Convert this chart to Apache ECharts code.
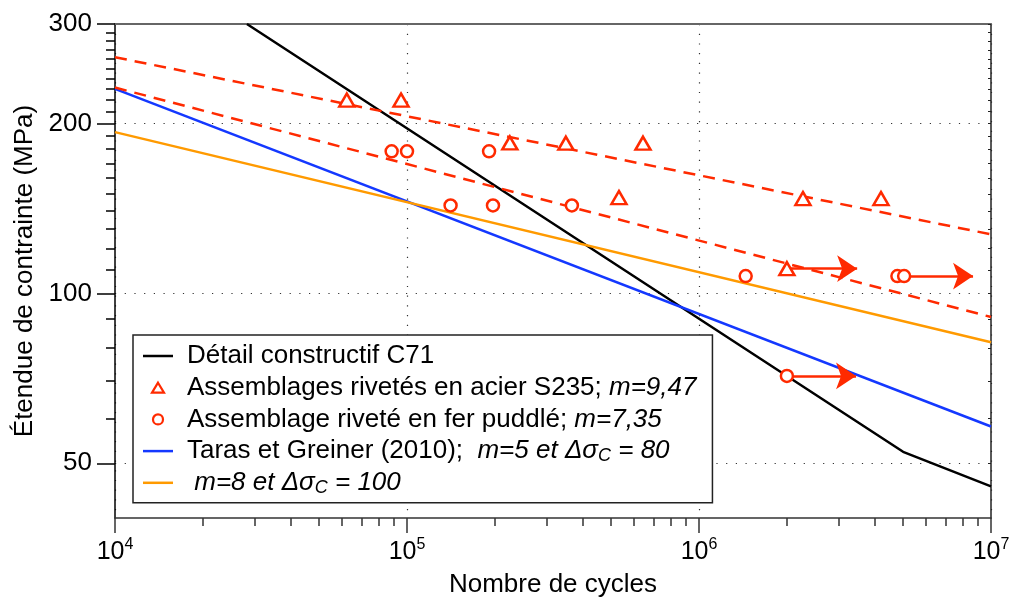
<!DOCTYPE html>
<html><head><meta charset="utf-8">
<script src="https://cdn.jsdelivr.net/npm/echarts@6/dist/echarts.min.js"></script>
<style>html,body{margin:0;padding:0;background:#fff}#c{width:1016px;height:606px}</style>
</head><body><div id="c"></div>
<script>
const FONT = "'Liberation Sans', Helvetica, Arial, sans-serif";
const RED = '#ff2a00', BLUE = '#1438ff', ORANGE = '#ff9a00';

// axis ticks (cycles, MPa)
const xTickLabels = [1e4, 1e5, 1e6, 1e7];
const xMinorTicks = [2e4,3e4,4e4,5e4,6e4,7e4,8e4,9e4, 2e5,3e5,4e5,5e5,6e5,7e5,8e5,9e5, 2e6,3e6,4e6,5e6,6e6,7e6,8e6,9e6];
const yTickLabels = [50, 100, 200, 300];
const yMinorTicks = [60,70,80,90,110,120,130,140,150,160,170,180,190,210,220,230,240,250,260,270,280,290];
const xRange = [1e4, 1e7];
const yRange = [40, 300];

// Détail constructif C71
const c71N = [2.83e4, 5e6, 1e7];
const c71S = [300, 52.4, 45.5];
// Assemblages rivetés en acier S235 (triangles)
const s235N = [6.22e4, 9.54e4, 2.25e5, 3.50e5, 5.32e5, 6.43e5, 2.0e6, 2.27e6, 4.20e6];
const s235S = [220, 220, 184.7, 184.5, 147.8, 184.5, 110.6, 147.2, 147.2];
// Assemblage riveté en fer puddlé (circles)
const puddN = [8.86e4, 1.0e5, 1.41e5, 1.91e5, 1.97e5, 3.67e5, 1.445e6, 2.0e6, 4.78e6, 5.04e6];
const puddS = [178.5, 178.5, 143.1, 178.5, 143.1, 143.1, 107.3, 71.4, 107.3, 107.3];
// Taras et Greiner (2010)
const tarasN = [1e4, 1e7];
const tarasS = [230.2, 58.1];
// m=8, Δσc=100
const m8N = [1e4, 1e7];
const m8S = [193, 81.9];
// fitted dashed lines
const fitS235N = [1e4, 1e7];
const fitS235S = [262, 127.2];
const fitPuddN = [1e4, 1e7];
const fitPuddS = [231.5, 90.8];
// run-out arrows (start, tip)
const arrowFromN = [2.0e6, 5.04e6, 2.0e6];
const arrowToN = [3.48e6, 8.68e6, 3.45e6];
const arrowS = [110.6, 107.3, 71.4];

const L = Math.log10;
const pts = (N, S) => N.map((n, i) => [L(n), L(S[i])]);

const names = ['Détail constructif C71', 'Assemblages rivetés en acier S235', 'Assemblage riveté en fer puddlé', 'Taras et Greiner (2010)', 'm=8 et Δσc = 100'];
const legendText = {};
legendText[names[0]] = 'Détail constructif C71';
legendText[names[1]] = 'Assemblages rivetés en acier S235; {i|m=9,47}';
legendText[names[2]] = 'Assemblage riveté en fer puddlé; {i|m=7,35}';
legendText[names[3]] = 'Taras et Greiner (2010);  {i|m=5 et Δσ}{s|C}{i| = 80}';
legendText[names[4]] = ' {i|m=8 et Δσ}{s|C}{i| = 100}';

const LINE_ICON = 'path://M0,0H30V2.5H0Z';
const legendData = [
  { name: names[0], icon: LINE_ICON, itemStyle: { color: '#000', borderWidth: 0 } },
  { name: names[1], icon: 'path://M6,0L12,10H0Z', itemStyle: { color: '#fff', borderColor: RED, borderWidth: 2.2 } },
  { name: names[2], icon: 'circle', itemStyle: { color: '#fff', borderColor: RED, borderWidth: 2.2 } },
  { name: names[3], icon: LINE_ICON, itemStyle: { color: BLUE, borderWidth: 0 } },
  { name: names[4], icon: LINE_ICON, itemStyle: { color: ORANGE, borderWidth: 0 } }
];

const dotted = { type: [1.2, 8.5], color: '#333', width: 1.2 };
const xBase = { type: 'value', min: L(xRange[0]), max: L(xRange[1]), interval: 1 };
const yBase = { type: 'value', min: L(yRange[0]), max: L(yRange[1]) };

const chart = echarts.init(document.getElementById('c'), null, { renderer: 'canvas' });
chart.setOption({
  animation: false,
  backgroundColor: '#fff',
  textStyle: { fontFamily: FONT },
  grid: { left: 115, right: 25, top: 24, bottom: 88, containLabel: false },
  xAxis: [
    Object.assign({}, xBase, {
      position: 'bottom',
      name: 'Nombre de cycles', nameLocation: 'middle', nameGap: 54,
      nameTextStyle: { fontSize: 26, color: '#000', fontFamily: FONT },
      axisLine: { show: true, lineStyle: { color: '#333', width: 1.5 } },
      axisTick: { show: true, customValues: xTickLabels.map(L), length: 15, lineStyle: { color: '#333', width: 1.5 } },
      axisLabel: {
        customValues: xTickLabels.map(L), margin: 19, color: '#000',
        formatter: v => '{b|10}{s|' + Math.round(v) + '}',
        rich: {
          b: { fontSize: 25, lineHeight: 28, verticalAlign: 'bottom', fontFamily: FONT, color: '#000' },
          s: { fontSize: 16, lineHeight: 14, verticalAlign: 'top', fontFamily: FONT, color: '#000' }
        }
      },
      splitLine: { show: true, lineStyle: dotted }
    }),
    Object.assign({}, xBase, {
      position: 'bottom',
      axisLine: { show: false },
      axisTick: { show: true, customValues: xMinorTicks.map(L), length: 8, lineStyle: { color: '#333', width: 1.5 } },
      axisLabel: { show: false },
      splitLine: { show: false }
    }),
    Object.assign({}, xBase, {
      position: 'top',
      axisLine: { show: true, lineStyle: { color: '#666', width: 2 } },
      axisTick: { show: false }, axisLabel: { show: false }, splitLine: { show: false }
    })
  ],
  yAxis: [
    Object.assign({}, yBase, {
      position: 'left',
      name: 'Étendue de contrainte (MPa)', nameLocation: 'middle', nameGap: 77,
      nameTextStyle: { fontSize: 26, color: '#000', fontFamily: FONT },
      axisLine: { show: true, lineStyle: { color: '#000', width: 1.5 } },
      axisTick: { show: true, customValues: yTickLabels.map(L), length: 18, lineStyle: { color: '#000', width: 1.5 } },
      axisLabel: {
        customValues: yTickLabels.map(L), margin: 23, fontSize: 26, color: '#000', fontFamily: FONT,
        formatter: v => String(Math.round(Math.pow(10, v)))
      },
      splitLine: { show: true, lineStyle: dotted }
    }),
    Object.assign({}, yBase, {
      position: 'left',
      axisLine: { show: false },
      axisTick: { show: true, customValues: yMinorTicks.map(L), length: 9, lineStyle: { color: '#000', width: 1.5 } },
      axisLabel: { show: false }, splitLine: { show: false }
    }),
    Object.assign({}, yBase, {
      position: 'right',
      axisLine: { show: true, lineStyle: { color: '#222', width: 1.5 } },
      axisTick: { show: true, inside: true, length: 3, customValues: yTickLabels.concat(yMinorTicks).map(L), lineStyle: { color: '#222', width: 1 } },
      axisLabel: { show: false }, splitLine: { show: false }
    })
  ],
  legend: {
    orient: 'vertical', left: 133, top: 335,
    padding: [7, 16, 6, 10], itemGap: 3.7, itemWidth: 30, itemHeight: 10,
    symbolKeepAspect: true,
    backgroundColor: '#fff', borderColor: '#222', borderWidth: 1.5, borderRadius: 0,
    selectedMode: false, align: 'left',
    data: legendData,
    formatter: n => legendText[n] || n,
    textStyle: {
      fontSize: 26, lineHeight: 28, color: '#000', fontFamily: FONT, padding: [0, 0, 0, 9],
      rich: {
        i: { fontSize: 26, lineHeight: 28, fontStyle: 'italic', fontFamily: FONT, color: '#000' },
        s: { fontSize: 18, lineHeight: 16, fontStyle: 'italic', verticalAlign: 'bottom', fontFamily: FONT, color: '#000' }
      }
    }
  },
  series: [
    { name: names[0], type: 'line', data: pts(c71N, c71S), symbol: 'none', lineStyle: { color: '#000', width: 2.5 }, itemStyle: { color: '#000' }, z: 3 },
    { name: names[1], type: 'scatter', data: pts(s235N, s235S), symbol: 'triangle', symbolSize: [15, 13],
      itemStyle: { color: '#fff', borderColor: RED, borderWidth: 2.5, opacity: 1 }, z: 6 },
    { name: names[2], type: 'scatter', data: pts(puddN, puddS), symbol: 'circle', symbolSize: 12,
      itemStyle: { color: '#fff', borderColor: RED, borderWidth: 2.5, opacity: 1 }, z: 6 },
    { name: names[3], type: 'line', data: pts(tarasN, tarasS), symbol: 'none', lineStyle: { color: BLUE, width: 2.5 }, itemStyle: { color: BLUE }, z: 3 },
    { name: names[4], type: 'line', data: pts(m8N, m8S), symbol: 'none', lineStyle: { color: ORANGE, width: 2.5 }, itemStyle: { color: ORANGE }, z: 3 },
    { type: 'line', data: pts(fitS235N, fitS235S), symbol: 'none', lineStyle: { color: RED, width: 2.5, type: [12, 8] }, z: 3 },
    { type: 'line', data: pts(fitPuddN, fitPuddS), symbol: 'none', lineStyle: { color: RED, width: 2.5, type: [12, 8] }, z: 3 },
    { type: 'lines', coordinateSystem: 'cartesian2d', z: 5,
      symbol: ['none', 'arrow'], symbolSize: 20,
      lineStyle: { color: RED, width: 2.5, opacity: 1, curveness: 0 },
      data: arrowFromN.map((n, i) => ({ coords: [[L(n), L(arrowS[i])], [L(arrowToN[i]), L(arrowS[i])]] })) }
  ]
});
</script></body></html>
